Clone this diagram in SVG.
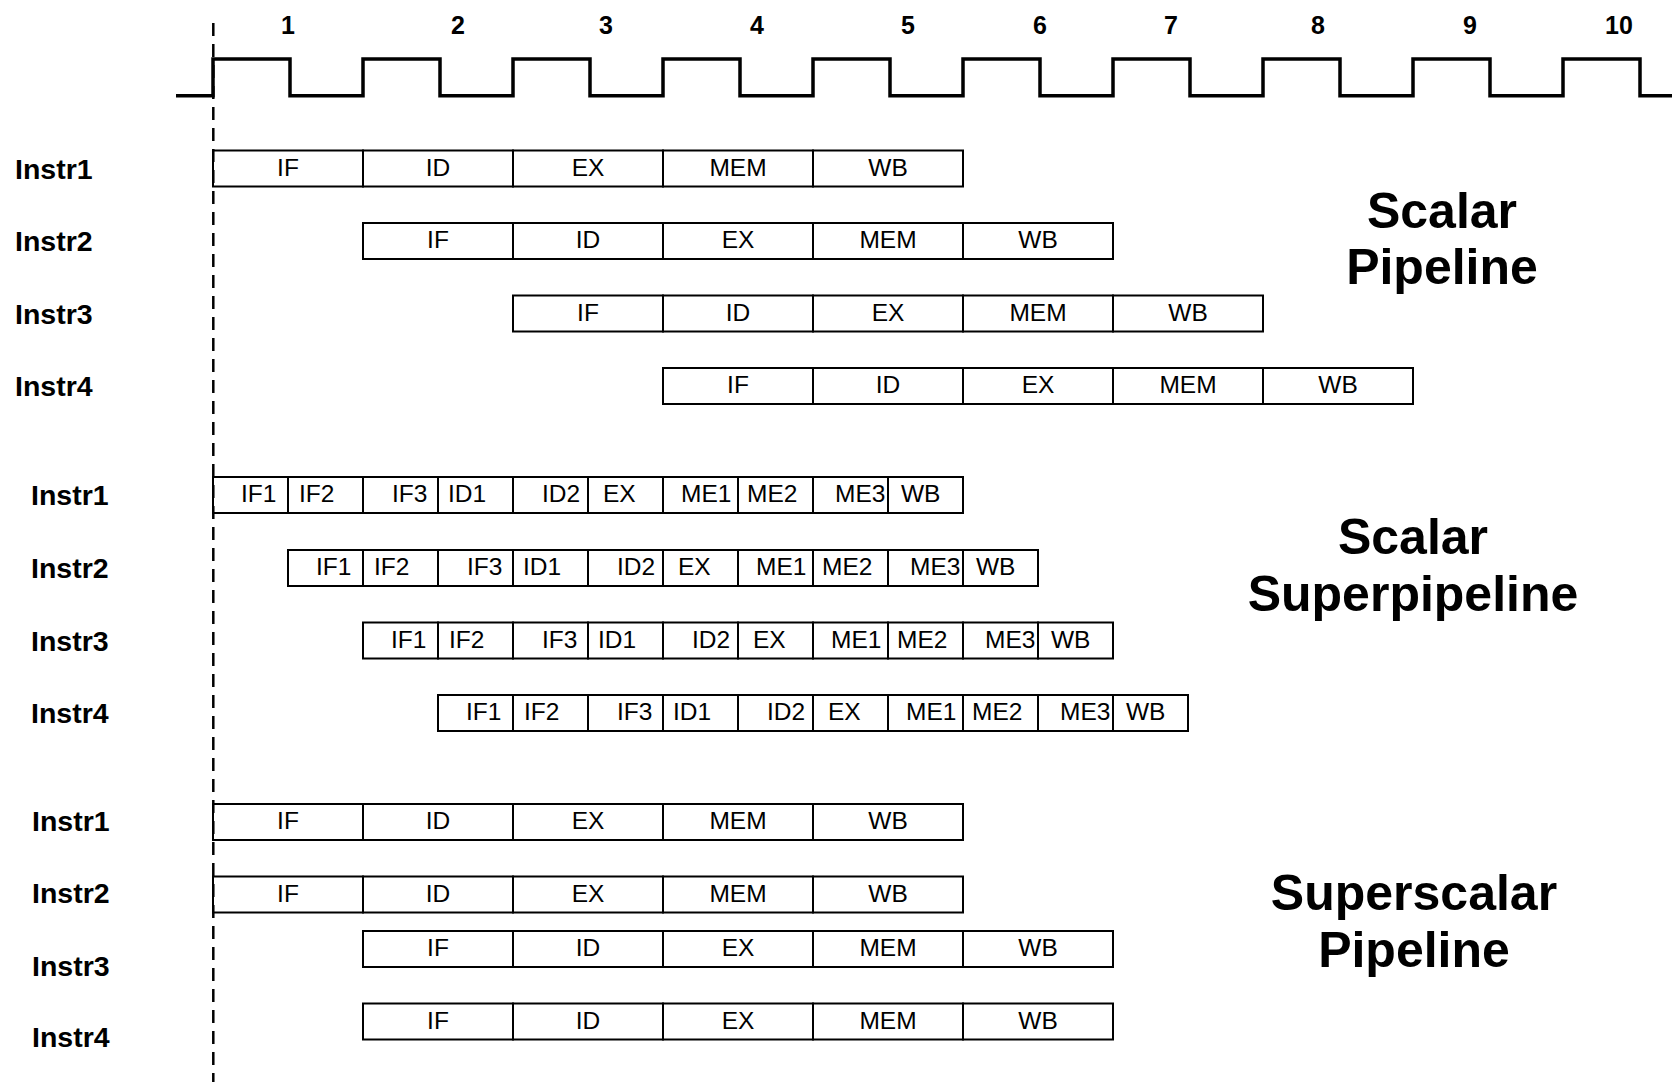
<svg xmlns="http://www.w3.org/2000/svg" width="1672" height="1082" viewBox="0 0 1672 1082">
<style>
  text { font-family: "Liberation Sans", Arial, sans-serif; fill: #000; }
  .num { font-size: 25px; font-weight: bold; text-anchor: middle; }
  .lbl { font-size: 28.5px; font-weight: bold; }
  .stg { font-size: 24.5px; text-anchor: middle; }
  .sst { font-size: 24.5px; }
  .ttl { font-size: 50px; font-weight: bold; text-anchor: middle; }
  .cell { fill: #fff; stroke: #000; stroke-width: 2; }
  .clock { fill: none; stroke: #000; stroke-width: 3.5; stroke-linejoin: miter; }
  .dash { stroke: #000; stroke-width: 2.5; stroke-dasharray: 13 8; fill: none; }
</style>
<rect width="1672" height="1082" fill="#fff"/>

<g id="clock">
  <path class="clock" d="M176,95.7 H213 V59 H290 V95.7 H363 V59 H440 V95.7 H513 V59 H590 V95.7 H663 V59 H740 V95.7 H813 V59 H890 V95.7 H963 V59 H1040 V95.7 H1113 V59 H1190 V95.7 H1263 V59 H1340 V95.7 H1413 V59 H1490 V95.7 H1563 V59 H1640 V95.7 H1672"/>
  <text class="num" x="288" y="33.5">1</text>
  <text class="num" x="458" y="33.5">2</text>
  <text class="num" x="606" y="33.5">3</text>
  <text class="num" x="757" y="33.5">4</text>
  <text class="num" x="908" y="33.5">5</text>
  <text class="num" x="1040" y="33.5">6</text>
  <text class="num" x="1171" y="33.5">7</text>
  <text class="num" x="1318" y="33.5">8</text>
  <text class="num" x="1470" y="33.5">9</text>
  <text class="num" x="1619" y="33.5">10</text>
</g>

<!-- Scalar Pipeline -->
<g id="scalar">
  <g id="s-i1">
    <text class="lbl" x="15" y="178.8">Instr1</text>
    <rect class="cell" x="213" y="150.5" width="150" height="36"/><rect class="cell" x="363" y="150.5" width="150" height="36"/><rect class="cell" x="513" y="150.5" width="150" height="36"/><rect class="cell" x="663" y="150.5" width="150" height="36"/><rect class="cell" x="813" y="150.5" width="150" height="36"/>
    <text class="stg" x="288" y="175.5">IF</text><text class="stg" x="438" y="175.5">ID</text><text class="stg" x="588" y="175.5">EX</text><text class="stg" x="738" y="175.5">MEM</text><text class="stg" x="888" y="175.5">WB</text>
  </g>
  <g id="s-i2">
    <text class="lbl" x="15" y="251">Instr2</text>
    <rect class="cell" x="363" y="223" width="150" height="36"/><rect class="cell" x="513" y="223" width="150" height="36"/><rect class="cell" x="663" y="223" width="150" height="36"/><rect class="cell" x="813" y="223" width="150" height="36"/><rect class="cell" x="963" y="223" width="150" height="36"/>
    <text class="stg" x="438" y="248">IF</text><text class="stg" x="588" y="248">ID</text><text class="stg" x="738" y="248">EX</text><text class="stg" x="888" y="248">MEM</text><text class="stg" x="1038" y="248">WB</text>
  </g>
  <g id="s-i3">
    <text class="lbl" x="15" y="323.5">Instr3</text>
    <rect class="cell" x="513" y="295.5" width="150" height="36"/><rect class="cell" x="663" y="295.5" width="150" height="36"/><rect class="cell" x="813" y="295.5" width="150" height="36"/><rect class="cell" x="963" y="295.5" width="150" height="36"/><rect class="cell" x="1113" y="295.5" width="150" height="36"/>
    <text class="stg" x="588" y="320.5">IF</text><text class="stg" x="738" y="320.5">ID</text><text class="stg" x="888" y="320.5">EX</text><text class="stg" x="1038" y="320.5">MEM</text><text class="stg" x="1188" y="320.5">WB</text>
  </g>
  <g id="s-i4">
    <text class="lbl" x="15" y="396">Instr4</text>
    <rect class="cell" x="663" y="368" width="150" height="36"/><rect class="cell" x="813" y="368" width="150" height="36"/><rect class="cell" x="963" y="368" width="150" height="36"/><rect class="cell" x="1113" y="368" width="150" height="36"/><rect class="cell" x="1263" y="368" width="150" height="36"/>
    <text class="stg" x="738" y="393">IF</text><text class="stg" x="888" y="393">ID</text><text class="stg" x="1038" y="393">EX</text><text class="stg" x="1188" y="393">MEM</text><text class="stg" x="1338" y="393">WB</text>
  </g>
  <text class="ttl" x="1442" y="227.5">Scalar</text>
  <text class="ttl" x="1442" y="283.5">Pipeline</text>
</g>

<!-- Scalar Superpipeline -->
<g id="superpipe">
  <g id="p-i1" transform="translate(213,477)">
    <rect class="cell" x="0" y="0" width="75" height="36"/><rect class="cell" x="75" y="0" width="75" height="36"/><rect class="cell" x="150" y="0" width="75" height="36"/><rect class="cell" x="225" y="0" width="75" height="36"/><rect class="cell" x="300" y="0" width="75" height="36"/><rect class="cell" x="375" y="0" width="75" height="36"/><rect class="cell" x="450" y="0" width="75" height="36"/><rect class="cell" x="525" y="0" width="75" height="36"/><rect class="cell" x="600" y="0" width="75" height="36"/><rect class="cell" x="675" y="0" width="75" height="36"/>
    <text class="sst" x="28" y="25">IF1</text><text class="sst" x="86" y="25">IF2</text><text class="sst" x="179" y="25">IF3</text><text class="sst" x="235" y="25">ID1</text><text class="sst" x="329" y="25">ID2</text><text class="sst" x="390" y="25">EX</text><text class="sst" x="468" y="25">ME1</text><text class="sst" x="534" y="25">ME2</text><text class="sst" x="622" y="25">ME3</text><text class="sst" x="688" y="25">WB</text>
  </g>
  <g id="p-i2" transform="translate(288,550)">
    <rect class="cell" x="0" y="0" width="75" height="36"/><rect class="cell" x="75" y="0" width="75" height="36"/><rect class="cell" x="150" y="0" width="75" height="36"/><rect class="cell" x="225" y="0" width="75" height="36"/><rect class="cell" x="300" y="0" width="75" height="36"/><rect class="cell" x="375" y="0" width="75" height="36"/><rect class="cell" x="450" y="0" width="75" height="36"/><rect class="cell" x="525" y="0" width="75" height="36"/><rect class="cell" x="600" y="0" width="75" height="36"/><rect class="cell" x="675" y="0" width="75" height="36"/>
    <text class="sst" x="28" y="25">IF1</text><text class="sst" x="86" y="25">IF2</text><text class="sst" x="179" y="25">IF3</text><text class="sst" x="235" y="25">ID1</text><text class="sst" x="329" y="25">ID2</text><text class="sst" x="390" y="25">EX</text><text class="sst" x="468" y="25">ME1</text><text class="sst" x="534" y="25">ME2</text><text class="sst" x="622" y="25">ME3</text><text class="sst" x="688" y="25">WB</text>
  </g>
  <g id="p-i3" transform="translate(363,622.5)">
    <rect class="cell" x="0" y="0" width="75" height="36"/><rect class="cell" x="75" y="0" width="75" height="36"/><rect class="cell" x="150" y="0" width="75" height="36"/><rect class="cell" x="225" y="0" width="75" height="36"/><rect class="cell" x="300" y="0" width="75" height="36"/><rect class="cell" x="375" y="0" width="75" height="36"/><rect class="cell" x="450" y="0" width="75" height="36"/><rect class="cell" x="525" y="0" width="75" height="36"/><rect class="cell" x="600" y="0" width="75" height="36"/><rect class="cell" x="675" y="0" width="75" height="36"/>
    <text class="sst" x="28" y="25">IF1</text><text class="sst" x="86" y="25">IF2</text><text class="sst" x="179" y="25">IF3</text><text class="sst" x="235" y="25">ID1</text><text class="sst" x="329" y="25">ID2</text><text class="sst" x="390" y="25">EX</text><text class="sst" x="468" y="25">ME1</text><text class="sst" x="534" y="25">ME2</text><text class="sst" x="622" y="25">ME3</text><text class="sst" x="688" y="25">WB</text>
  </g>
  <g id="p-i4" transform="translate(438,695)">
    <rect class="cell" x="0" y="0" width="75" height="36"/><rect class="cell" x="75" y="0" width="75" height="36"/><rect class="cell" x="150" y="0" width="75" height="36"/><rect class="cell" x="225" y="0" width="75" height="36"/><rect class="cell" x="300" y="0" width="75" height="36"/><rect class="cell" x="375" y="0" width="75" height="36"/><rect class="cell" x="450" y="0" width="75" height="36"/><rect class="cell" x="525" y="0" width="75" height="36"/><rect class="cell" x="600" y="0" width="75" height="36"/><rect class="cell" x="675" y="0" width="75" height="36"/>
    <text class="sst" x="28" y="25">IF1</text><text class="sst" x="86" y="25">IF2</text><text class="sst" x="179" y="25">IF3</text><text class="sst" x="235" y="25">ID1</text><text class="sst" x="329" y="25">ID2</text><text class="sst" x="390" y="25">EX</text><text class="sst" x="468" y="25">ME1</text><text class="sst" x="534" y="25">ME2</text><text class="sst" x="622" y="25">ME3</text><text class="sst" x="688" y="25">WB</text>
  </g>
  <text class="lbl" x="31" y="505.3">Instr1</text>
  <text class="lbl" x="31" y="578.3">Instr2</text>
  <text class="lbl" x="31" y="650.8">Instr3</text>
  <text class="lbl" x="31" y="723.3">Instr4</text>
  <text class="ttl" x="1413" y="554">Scalar</text>
  <text class="ttl" x="1413" y="611">Superpipeline</text>
</g>

<!-- Superscalar Pipeline -->
<g id="superscalar">
  <g id="c-i1">
    <text class="lbl" x="32" y="830.5">Instr1</text>
    <rect class="cell" x="213" y="804" width="150" height="36"/><rect class="cell" x="363" y="804" width="150" height="36"/><rect class="cell" x="513" y="804" width="150" height="36"/><rect class="cell" x="663" y="804" width="150" height="36"/><rect class="cell" x="813" y="804" width="150" height="36"/>
    <text class="stg" x="288" y="829">IF</text><text class="stg" x="438" y="829">ID</text><text class="stg" x="588" y="829">EX</text><text class="stg" x="738" y="829">MEM</text><text class="stg" x="888" y="829">WB</text>
  </g>
  <g id="c-i2">
    <text class="lbl" x="32" y="903">Instr2</text>
    <rect class="cell" x="213" y="876.5" width="150" height="36"/><rect class="cell" x="363" y="876.5" width="150" height="36"/><rect class="cell" x="513" y="876.5" width="150" height="36"/><rect class="cell" x="663" y="876.5" width="150" height="36"/><rect class="cell" x="813" y="876.5" width="150" height="36"/>
    <text class="stg" x="288" y="901.5">IF</text><text class="stg" x="438" y="901.5">ID</text><text class="stg" x="588" y="901.5">EX</text><text class="stg" x="738" y="901.5">MEM</text><text class="stg" x="888" y="901.5">WB</text>
  </g>
  <g id="c-i3">
    <text class="lbl" x="32" y="975.5">Instr3</text>
    <rect class="cell" x="363" y="931" width="150" height="36"/><rect class="cell" x="513" y="931" width="150" height="36"/><rect class="cell" x="663" y="931" width="150" height="36"/><rect class="cell" x="813" y="931" width="150" height="36"/><rect class="cell" x="963" y="931" width="150" height="36"/>
    <text class="stg" x="438" y="956">IF</text><text class="stg" x="588" y="956">ID</text><text class="stg" x="738" y="956">EX</text><text class="stg" x="888" y="956">MEM</text><text class="stg" x="1038" y="956">WB</text>
  </g>
  <g id="c-i4">
    <text class="lbl" x="32" y="1047">Instr4</text>
    <rect class="cell" x="363" y="1003.5" width="150" height="36"/><rect class="cell" x="513" y="1003.5" width="150" height="36"/><rect class="cell" x="663" y="1003.5" width="150" height="36"/><rect class="cell" x="813" y="1003.5" width="150" height="36"/><rect class="cell" x="963" y="1003.5" width="150" height="36"/>
    <text class="stg" x="438" y="1028.5">IF</text><text class="stg" x="588" y="1028.5">ID</text><text class="stg" x="738" y="1028.5">EX</text><text class="stg" x="888" y="1028.5">MEM</text><text class="stg" x="1038" y="1028.5">WB</text>
  </g>
  <text class="ttl" x="1414" y="910">Superscalar</text>
  <text class="ttl" x="1414" y="967">Pipeline</text>
</g>

<g id="connectors">
  <line class="dash" x1="213.3" y1="23" x2="213.3" y2="1082"/>
</g>
</svg>
